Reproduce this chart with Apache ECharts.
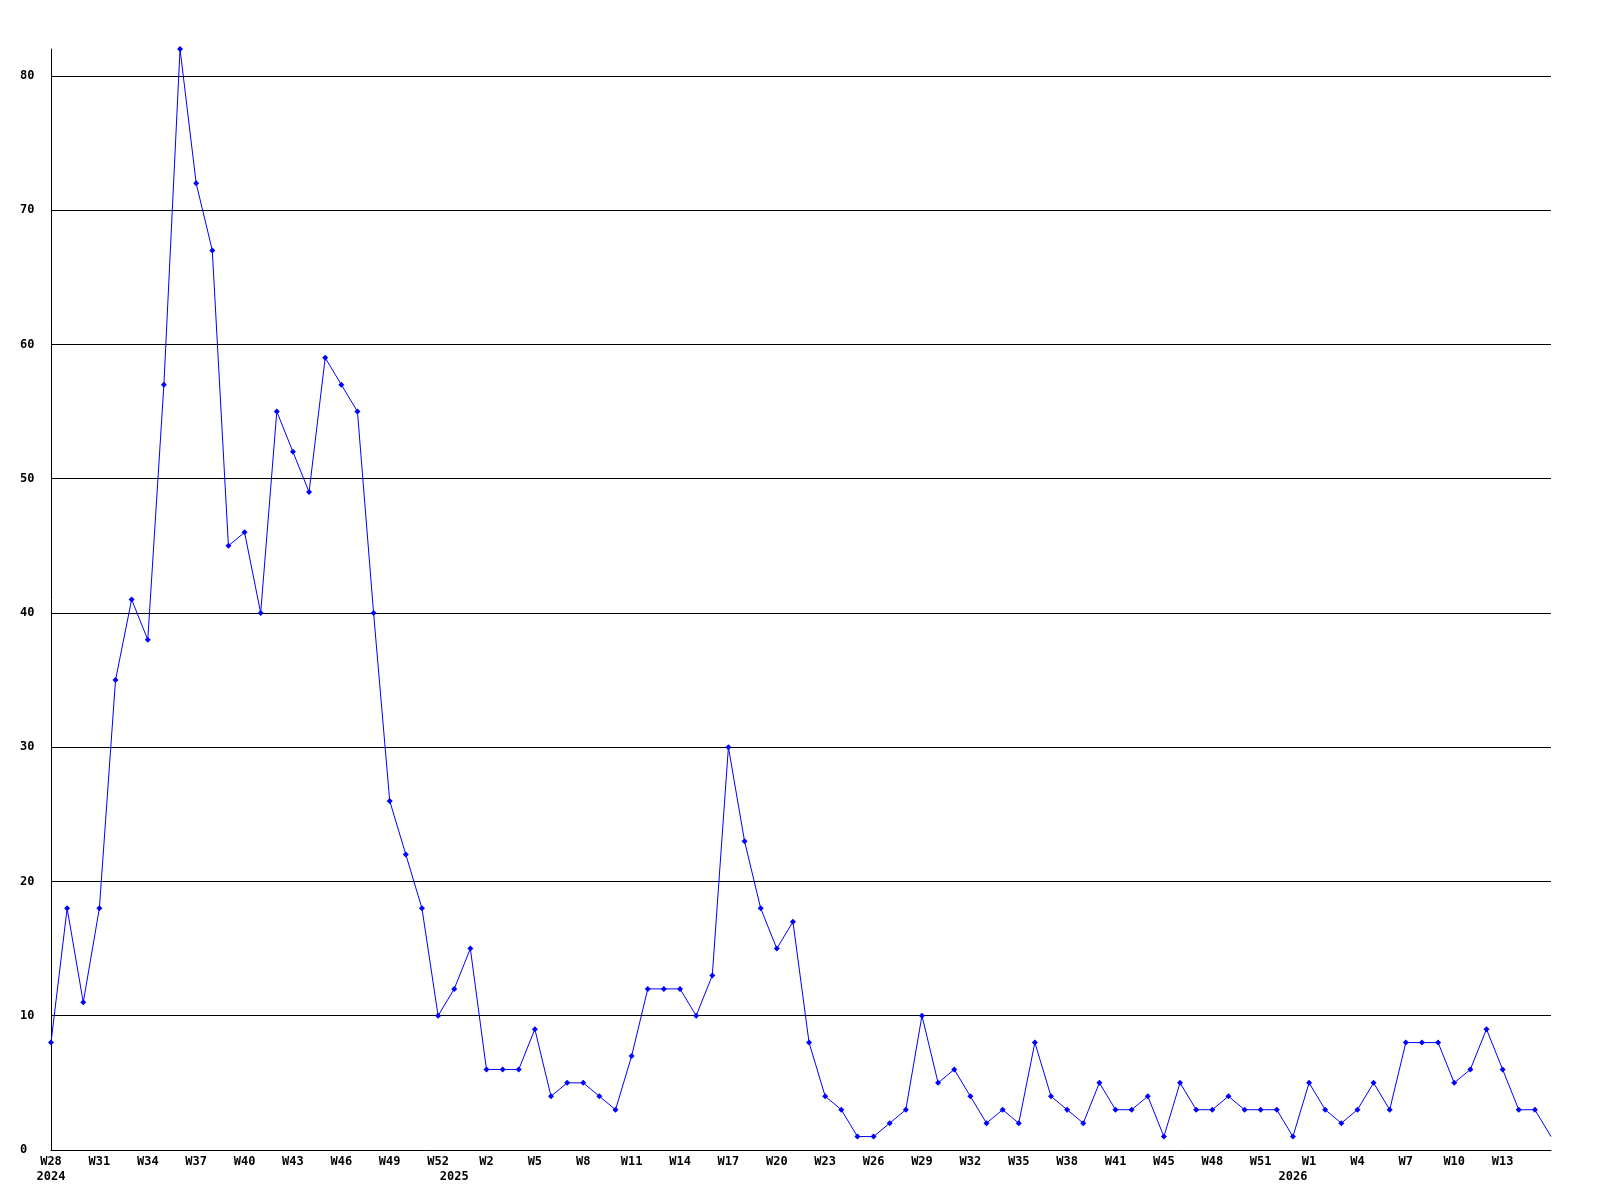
<!DOCTYPE html>
<html>
<head>
<meta charset="utf-8">
<script src="https://cdn.jsdelivr.net/npm/echarts@6/dist/echarts.min.js"></script>
<style>
  html, body { margin: 0; padding: 0; background: #ffffff; }
  #chart { width: 1600px; height: 1200px; }
</style>
</head>
<body>
<div id="chart"></div>
<script>
// Week labels for each data point (weeks with no data are absent)
const weeks = [
  // 2024
  'W28','W29','W30','W31','W32','W33','W34','W35','W36','W37','W38','W39','W40',
  'W41','W42','W43','W44','W45','W46','W47','W48','W49','W50','W51','W52',
  // 2025
  'W0','W1','W2','W3','W4','W5','W6','W7','W8','W9','W10','W11','W12','W13','W14',
  'W15','W16','W17','W18','W19','W20','W21','W22','W23','W24','W25','W26','W27',
  'W28','W29','W30','W31','W32','W33','W34','W35','W36','W37','W38','W39','W40',
  'W41','W42','W43','W45','W46','W47','W48','W49','W50','W51','W52',
  // 2026
  'W0','W1','W2','W3','W4','W5','W6','W7','W8','W9','W10','W11','W12','W13',
  'W14','W15','W16'
];
const yearStarts = [0, 25, 77];
const yearNames = ['2024', '2025', '2026'];
const values = [
  8, 18, 11, 18, 35, 41, 38, 57, 82, 72, 67, 45, 46, 40, 55, 52, 49, 59, 57, 55,
  40, 26, 22, 18, 10, 12, 15, 6, 6, 6, 9, 4, 5, 5, 4, 3, 7, 12, 12, 12,
  10, 13, 30, 23, 18, 15, 17, 8, 4, 3, 1, 1, 2, 3, 10, 5, 6, 4, 2, 3,
  2, 8, 4, 3, 2, 5, 3, 3, 4, 1, 5, 3, 3, 4, 3, 3, 3, 1, 5, 3,
  2, 3, 5, 3, 8, 8, 8, 5, 6, 9, 6, 3, 3, 1
];
const yTicks = { min: 0, max: 82, step: 10 };

const font = 'DejaVu Sans Mono';
const chart = echarts.init(document.getElementById('chart'), null, { renderer: 'canvas' });
const lastIdx = values.length - 1;
chart.setOption({
  animation: false,
  backgroundColor: '#ffffff',
  grid: { left: 51, right: 49, top: 49, bottom: 50, containLabel: false },
  xAxis: {
    type: 'category',
    data: weeks,
    boundaryGap: false,
    axisLine: { show: true, lineStyle: { color: '#000000', width: 1 } },
    axisTick: { show: false },
    splitLine: { show: false },
    axisLabel: {
      interval: function (i) { return (i % 3 === 0 && i !== lastIdx) || yearStarts.indexOf(i) >= 0; },
      formatter: function (val, i) {
        const yi = yearStarts.indexOf(i);
        const w = (i % 3 === 0 && i !== lastIdx) ? val : '';
        return yi >= 0 ? w + '\n' + yearNames[yi] : w;
      },
      color: '#000000',
      fontFamily: font,
      fontWeight: 'bold',
      fontSize: 12,
      lineHeight: 15,
      margin: 4,
      hideOverlap: false
    }
  },
  yAxis: {
    type: 'value',
    min: yTicks.min,
    max: yTicks.max,
    interval: yTicks.step,
    axisLine: { show: true, lineStyle: { color: '#000000', width: 1 } },
    axisTick: { show: false },
    splitLine: { show: true, showMinLine: false, showMaxLine: false, lineStyle: { color: '#000000', width: 1 } },
    axisLabel: {
      showMaxLabel: false,
      align: 'left',
      margin: 31,
      color: '#000000',
      fontFamily: font,
      fontWeight: 'bold',
      fontSize: 12
    }
  },
  series: [{
    type: 'line',
    data: values.map(function (v, i) { return i === lastIdx ? { value: v, symbol: 'none' } : v; }),
    symbol: 'diamond',
    symbolSize: 6,
    showAllSymbol: true,
    lineStyle: { color: '#0000ff', width: 1 },
    itemStyle: { color: '#0000ff' },
    clip: false
  }]
});
</script>
</body>
</html>
